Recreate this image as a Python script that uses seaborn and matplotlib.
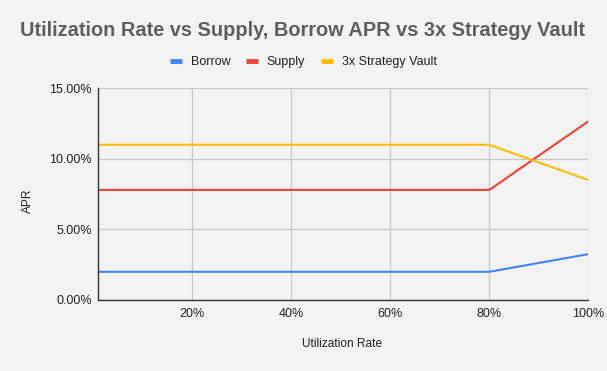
import pandas as pd
import numpy as np
import matplotlib.pyplot as plt
import seaborn as sns
from matplotlib.ticker import FuncFormatter

# ------------------------------
# Data
# ------------------------------
utilization = [1, 20, 40, 60, 80, 100]
borrow = [2.0, 2.0, 2.0, 2.0, 2.0, 3.25]
supply = [7.8, 7.8, 7.8, 7.8, 7.8, 12.66]
vault = [11.0, 11.0, 11.0, 11.0, 11.0, 8.5]
series_names = ['Borrow', 'Supply', '3x Strategy Vault']
colors = ['#4285f4', '#ea4335', '#fbbc04']

df = pd.DataFrame({
    'util': utilization * 3,
    'apr': borrow + supply + vault,
    'series': np.repeat(series_names, len(utilization)),
})

# ------------------------------
# Plot
# ------------------------------
sns.set_style('white')
plt.rcParams['font.family'] = ['Liberation Sans', 'DejaVu Sans']
bg = '#f3f3f3'
txt = '#222222'

fig = plt.figure(figsize=(6.07, 3.71), dpi=100, facecolor=bg)
ax = fig.add_axes([98.3 / 607, 1 - 300 / 371, 490 / 607, (300 - 88.3) / 371])
ax.set_facecolor(bg)

sns.lineplot(data=df, x='util', y='apr', hue='series', hue_order=series_names,
             palette=colors, linewidth=1.5, ax=ax, legend=False)

ax.set_xlim(1, 100)
ax.set_ylim(0, 15)
ax.set_xticks([20, 40, 60, 80, 100])
ax.set_yticks([0, 5, 10, 15])
ax.xaxis.set_major_formatter(FuncFormatter(lambda v, p: f'{v:.0f}%'))
ax.yaxis.set_major_formatter(FuncFormatter(lambda v, p: f'{v:.2f}%'))
ax.grid(True, color='#c8c8c8', linewidth=0.9)
ax.set_axisbelow(True)
ax.tick_params(axis='y', length=0, labelsize=9, colors=txt, pad=4.5)
ax.tick_params(axis='x', length=0, labelsize=9, colors=txt, pad=6)

for s in ['top', 'right']:
    ax.spines[s].set_visible(False)
for s in ['left', 'bottom']:
    ax.spines[s].set_color('#333333')
    ax.spines[s].set_linewidth(1.0)

ax.set_xlabel('Utilization Rate', fontsize=8.6, color=txt)
ax.xaxis.label.set_va('center')
ax.xaxis.set_label_coords(0.497, -0.209)
ax.set_ylabel('APR', fontsize=8.6, color=txt)
ax.yaxis.label.set_va('center')
ax.yaxis.set_label_coords(-0.1436, 0.47)

fig.text(302 / 607, 1 - 30.5 / 371, 'Utilization Rate vs Supply, Borrow APR vs 3x Strategy Vault',
         ha='center', va='center', fontsize=14.4, fontweight='bold', color='#5f5f5f')

handles = [plt.Line2D([], [], color=c, linewidth=3.5, solid_capstyle='butt') for c in colors]
fig.legend(handles, series_names, loc='center', bbox_to_anchor=(303.5 / 607, 1 - 62 / 371),
           ncol=3, frameon=False, fontsize=9, handlelength=0.96, handletextpad=0.68,
           columnspacing=1.28, labelcolor=txt, borderpad=0, borderaxespad=0)

plt.savefig('out.png', dpi=100, facecolor=bg)
